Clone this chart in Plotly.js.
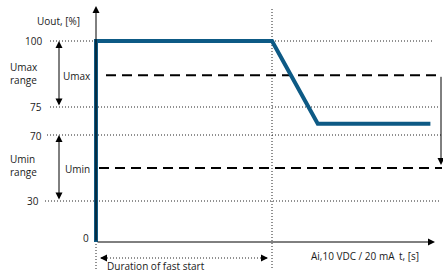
<!DOCTYPE html>
<html>
<head>
<meta charset="utf-8">
<script src="https://cdn.plot.ly/plotly-3.0.1.min.js"></script>
<style>html,body{margin:0;padding:0;background:#fff;}#chart{width:443px;height:273px;}</style>
</head>
<body>
<div id="chart"></div>
<script>
// ---- data (schematic) ----
const yTickLabels = ['0', '30', '70', '75', '100'];
const yTickValues = [0, 30, 70, 75, 100];
const curveT = [0, 0, 1, 1.26, 1.9];      // time, in units of the fast-start duration
const curveU = [0, 100, 100, 72, 72];     // Uout, %
const uMax = 87;
const uMin = 50;
const fastStartEnd = 1;

// ---- layout config (schematic, non-linear y scale) ----
const W = 443, H = 273;
const tickPos = [0, 41, 107, 135, 201];   // schematic heights of the tick levels
const pxPerT = 176, originPx = 96, originPy = 242;
function Y(v) {
  for (let i = 0; i < yTickValues.length - 1; i++) {
    const a = yTickValues[i], b = yTickValues[i + 1];
    if (v <= b || i === yTickValues.length - 2) {
      return tickPos[i] + (v - a) / (b - a) * (tickPos[i + 1] - tickPos[i]);
    }
  }
}
const T = px => (px - originPx) / pxPerT;   // helper for layout positions
const P = py => originPy - py;
const fx = px => px / W;
const fy = py => 1 - py / H;

const ink = '#1a1a1a';
const blue = '#0d5a85';
const font = {family: 'Open Sans, sans-serif', size: 10, color: ink};

const traces = [
  // Umax / Umin dashed levels
  {x: [T(106), T(442)], y: [Y(uMax), Y(uMax)], mode: 'lines',
   line: {color: '#000', width: 2, dash: '10px,6px'}, hoverinfo: 'skip'},
  {x: [T(99), T(442)], y: [Y(uMin), Y(uMin)], mode: 'lines',
   line: {color: '#000', width: 2, dash: '10px,6px'}, hoverinfo: 'skip'},
  // output curve
  {x: curveT, y: curveU.map(Y), mode: 'lines',
   line: {color: blue, width: 4}, hoverinfo: 'skip'}
];

const dot = {color: '#222', width: 1, dash: '1px,2px'};
const dotEnds = {100: [50, 432], 75: [50, 440], 70: [47, 441], 30: [45, 440]};
const shapes = [];
[100, 75, 70, 30].forEach(v => {
  shapes.push({type: 'line', xref: 'x', yref: 'y', x0: T(dotEnds[v][0]), x1: T(dotEnds[v][1]),
               y0: Y(v), y1: Y(v), line: dot, layer: 'below'});
});
// vertical dotted at end of fast start
shapes.push({type: 'line', xref: 'x', yref: 'y', x0: fastStartEnd, x1: fastStartEnd,
             y0: P(268), y1: P(8), line: dot, layer: 'below'});
// vertical dotted below origin
shapes.push({type: 'line', xref: 'x', yref: 'y', x0: 0, x1: 0, y0: P(269), y1: 0, line: dot});
// horizontal dotted duration line
shapes.push({type: 'line', xref: 'x', yref: 'y', x0: T(101), x1: T(267), y0: P(258), y1: P(258), line: dot});

const ann = [];
function arrow(x, y, ax, ay, extra) {
  ann.push(Object.assign({x: x, y: y, ax: ax, ay: ay, xref: 'x', yref: 'y', axref: 'x', ayref: 'y',
    text: '', showarrow: true, arrowhead: 2, arrowsize: 1.4, arrowwidth: 1, arrowcolor: '#000'}, extra || {}));
}
// axes
arrow(0, P(6), 0, 0);
arrow(T(435), 0, 0, 0);
// range arrows
arrow(T(59), Y(100), T(59), Y(75), {arrowside: 'end+start'});
arrow(T(59), Y(70), T(59), Y(30), {arrowside: 'end+start'});
// Umax -> Umin arrow on the right
arrow(T(441), Y(uMin), T(441), Y(uMax), {standoff: 3});
// duration arrow heads
arrow(T(100), P(258), T(108), P(258));
arrow(T(268), P(258), T(260), P(258));

// tick labels
const labelRight = [91, 41, 44, 44, 44];
const labelShift = [4, 0, -1, 0, 0];
yTickLabels.forEach((t, i) => {
  ann.push({x: fx(labelRight[i]), y: Y(yTickValues[i]), xref: 'paper', yref: 'y', text: t,
            showarrow: false, xanchor: 'right', yanchor: 'middle', yshift: labelShift[i], font: font});
});
function label(text, px, py, xa, extra) {
  ann.push(Object.assign({x: fx(px), y: fy(py), xref: 'paper', yref: 'paper', text: text,
    showarrow: false, xanchor: xa || 'center', yanchor: 'middle', font: font}, extra || {}));
}
label('Uout, [%]', 59, 21);
label('Umax<br>range', 8, 74, 'left', {align: 'left'});
label('Umin<br>range', 8, 165, 'left', {align: 'left'});
label('Umax', 77, 76);
label('Umin', 77, 169);
label('Duration of fast start', 105, 266, 'left');
label('Ai,10 VDC / 20 mA', 309, 256, 'left');
label('t, [s]', 397, 256, 'left');

const layout = {
  width: W, height: H,
  margin: {l: 0, r: 0, t: 0, b: 0, pad: 0},
  paper_bgcolor: '#fff', plot_bgcolor: '#fff',
  showlegend: false,
  xaxis: {range: [T(0), T(W)], visible: false, fixedrange: true},
  yaxis: {range: [P(H), P(0)], visible: false, fixedrange: true},
  shapes: shapes,
  annotations: ann,
  font: font
};
Plotly.newPlot('chart', traces, layout, {displayModeBar: false, staticPlot: true});
</script>
</body>
</html>
